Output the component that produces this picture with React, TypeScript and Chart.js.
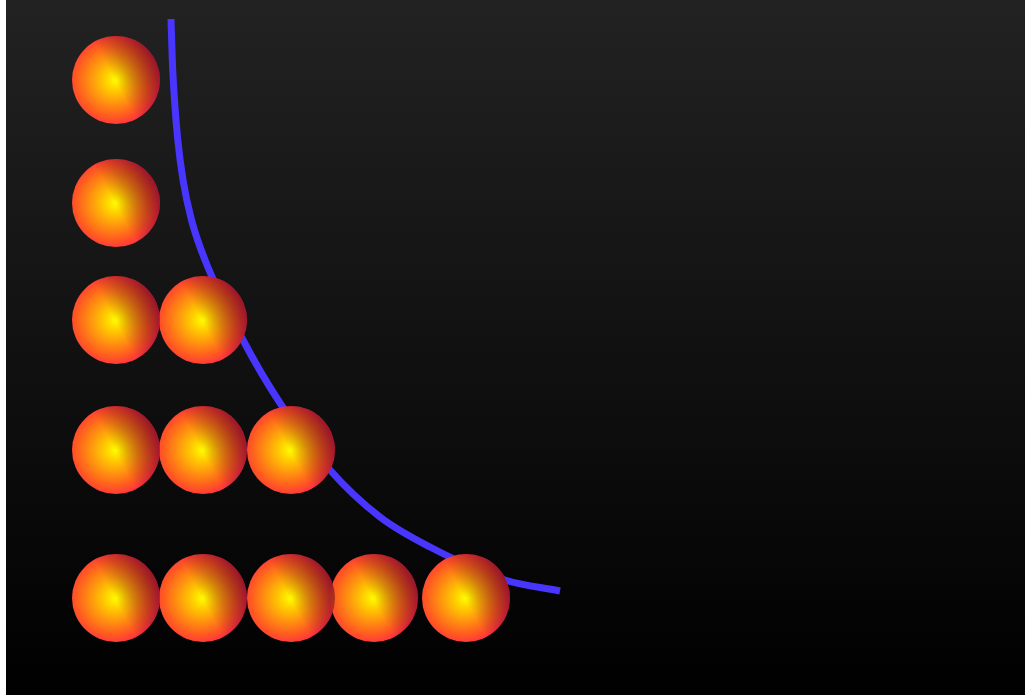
import React, { useEffect, useRef } from "react";
import { Chart, registerables } from "chart.js";

Chart.register(...registerables);

// Spheres (x, y in chart units)
const sphereX = [1.10, 1.10, 1.10, 1.97, 1.10, 1.97, 2.85, 1.10, 1.97, 2.85, 3.68, 4.60];
const sphereY = [6.15, 4.92, 3.75, 3.75, 2.45, 2.45, 2.45, 0.97, 0.97, 0.97, 0.97, 0.97];

// Curve
const curveX = [1.65, 1.663, 1.685, 1.718, 1.77, 1.855, 1.99, 2.37, 2.74, 3.24, 3.74, 4.24, 4.99, 5.54];
const curveY = [6.76, 6.35, 5.95, 5.55, 5.15, 4.75, 4.35, 3.55, 2.92, 2.25, 1.78, 1.48, 1.15, 1.04];

const X_MIN = 0;
const X_MAX = 10.19;
const Y_MIN = 0;
const Y_MAX = 6.95;

const bgPlugin = {
  id: "bgGradient",
  beforeDraw(chart: any) {
    const { ctx, width, height } = chart;
    const g = ctx.createLinearGradient(0, 0, 0, height);
    g.addColorStop(0, "#222222");
    g.addColorStop(1, "#000000");
    ctx.save();
    ctx.fillStyle = g;
    ctx.fillRect(0, 0, width, height);
    ctx.restore();
  },
};

export default function App() {
  const ref = useRef<HTMLCanvasElement | null>(null);
  useEffect(() => {
    if (!ref.current) return;
    const R = 44;
    const pos = (c: any) => {
      const chart = c.chart;
      if (!c.parsed || !chart.scales || !chart.scales.x) return null;
      const x = chart.scales.x.getPixelForValue(c.parsed.x);
      const y = chart.scales.y.getPixelForValue(c.parsed.y);
      if (!isFinite(x) || !isFinite(y)) return null;
      return { x, y };
    };
    const sphereFill = (c: any) => {
      const p = pos(c);
      if (!p) return "#ff7a10";
      const { x, y } = p;
      const g = c.chart.ctx.createRadialGradient(x, y, 0, x - 0.1 * R, y, 1.1 * R);
      g.addColorStop(0, "#ffff00");
      g.addColorStop(0.2, "#ffd000");
      g.addColorStop(0.5, "#ff9010");
      g.addColorStop(0.75, "#ff5c20");
      g.addColorStop(1, "#ff2a48");
      return g;
    };
    const shadeFill = (c: any) => {
      const p = pos(c);
      if (!p) return "rgba(0,0,0,0)";
      const { x, y } = p;
      const g = c.chart.ctx.createLinearGradient(x + 0.1 * R, y + 0.25 * R, x + R, y - 0.25 * R);
      g.addColorStop(0, "rgba(70,0,20,0)");
      g.addColorStop(0.35, "rgba(70,0,20,0.22)");
      g.addColorStop(1, "rgba(70,0,20,0.55)");
      return g;
    };
    const pts = sphereX.map((x, i) => ({ x, y: sphereY[i] }));
    const chart = new Chart(ref.current, {
      type: "scatter",
      data: {
        datasets: [
          {
            type: "scatter",
            data: pts,
            pointRadius: R,
            pointHoverRadius: R,
            pointBorderWidth: 0,
            borderWidth: 0,
            backgroundColor: shadeFill,
            pointBackgroundColor: shadeFill,
            order: 0,
          } as any,
          {
            type: "scatter",
            data: pts,
            pointRadius: R,
            pointHoverRadius: R,
            pointBorderWidth: 0,
            borderWidth: 0,
            backgroundColor: sphereFill,
            pointBackgroundColor: sphereFill,
            order: 1,
          } as any,
          {
            type: "line",
            data: curveX.map((x, i) => ({ x, y: curveY[i] })),
            borderColor: "#4836ff",
            borderWidth: 7,
            borderCapStyle: "butt",
            pointRadius: 0,
            fill: false,
            cubicInterpolationMode: "monotone",
            order: 2,
          } as any,
        ],
      },
      options: {
        animation: false,
        responsive: false,
        events: [],
        layout: { padding: 0, autoPadding: false },
        plugins: { legend: { display: false }, tooltip: { enabled: false } },
        scales: {
          x: { type: "linear", display: false, min: X_MIN, max: X_MAX },
          y: { type: "linear", display: false, min: Y_MIN, max: Y_MAX },
        },
      },
      plugins: [bgPlugin],
    });
    return () => chart.destroy();
  }, []);
  return (
    <div style={{ position: "fixed", left: 6, top: 0, width: 1019, height: 695 }}>
      <canvas ref={ref} width={1019} height={695} style={{ display: "block" }} />
    </div>
  );
}
